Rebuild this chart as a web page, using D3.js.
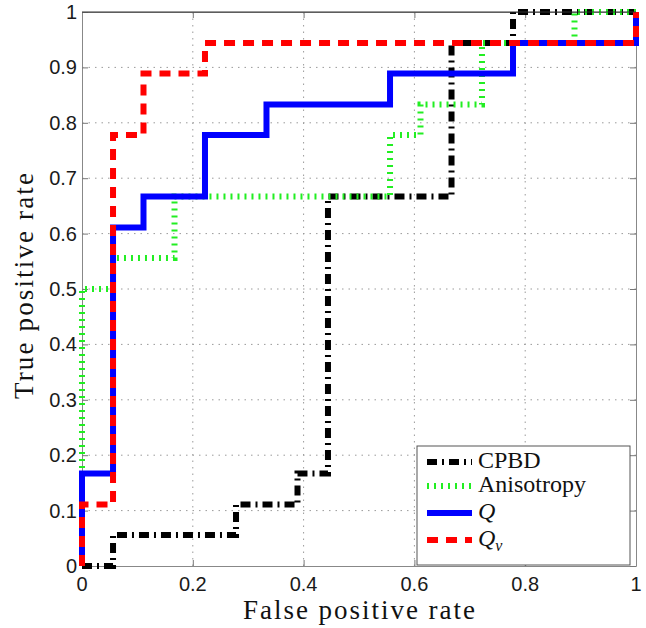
<!DOCTYPE html>
<html>
<head>
<meta charset="utf-8">
<script src="https://cdn.jsdelivr.net/npm/d3@7"></script>
<style>
  body { margin: 0; background: #fff; }
</style>
</head>
<body>
<div id="graph"></div>
<script>
const fullWidth = 646;
const fullHeight = 628;
const plot = { left: 82, right: 636, top: 12, bottom: 566 };
const sansFont = "'Liberation Sans', Arial, sans-serif";
const serifFont = "'Liberation Serif', 'Times New Roman', Times, serif";

// tick values
const xTicks = [0, 0.2, 0.4, 0.6, 0.8, 1];
const yTicks = [0, 0.1, 0.2, 0.3, 0.4, 0.5, 0.6, 0.7, 0.8, 0.9, 1];

// ROC vertices (false positive rate / true positive rate)
const cpbdX = [0, 0.056, 0.056, 0.278, 0.278, 0.389, 0.389, 0.444, 0.444, 0.667, 0.667, 0.778, 0.778, 1];
const cpbdY = [0, 0, 0.056, 0.056, 0.111, 0.111, 0.167, 0.167, 0.667, 0.667, 0.944, 0.944, 1, 1];

const anisoX = [0, 0, 0.056, 0.056, 0.167, 0.167, 0.556, 0.556, 0.611, 0.611, 0.722, 0.722, 0.889, 0.889, 1];
const anisoY = [0, 0.5, 0.5, 0.556, 0.556, 0.667, 0.667, 0.778, 0.778, 0.833, 0.833, 0.944, 0.944, 1, 1];

const qX = [0, 0, 0.056, 0.056, 0.111, 0.111, 0.222, 0.222, 0.333, 0.333, 0.556, 0.556, 0.778, 0.778, 1, 1];
const qY = [0, 0.167, 0.167, 0.611, 0.611, 0.667, 0.667, 0.778, 0.778, 0.833, 0.833, 0.889, 0.889, 0.944, 0.944, 1];

const qvX = [0, 0, 0.056, 0.056, 0.111, 0.111, 0.222, 0.222, 1, 1];
const qvY = [0, 0.111, 0.111, 0.778, 0.778, 0.889, 0.889, 0.944, 0.944, 1];

const seriesNames = ["CPBD", "Anisotropy", "Q", "Qv"];

const series = [
  { name: seriesNames[0], xs: cpbdX, ys: cpbdY, color: "#000000", width: 6, dash: "10,5,2,5" },
  { name: seriesNames[1], xs: anisoX, ys: anisoY, color: "#22ee22", width: 6, dash: "2,5" },
  { name: seriesNames[2], xs: qX, ys: qY, color: "#0000ff", width: 6, dash: null },
  { name: seriesNames[3], xs: qvX, ys: qvY, color: "#ff0000", width: 6, dash: "11,8" }
];

var svg = d3.select("#graph")
  .append("svg")
  .attr("width", fullWidth)
  .attr("height", fullHeight);

var x = d3.scaleLinear().domain([0, 1]).range([plot.left, plot.right]);
var y = d3.scaleLinear().domain([0, 1]).range([plot.bottom, plot.top]);

// grid
var grid = svg.append("g").attr("class", "grid");
grid.selectAll(".gx")
  .data(xTicks.filter(d => d > 0 && d < 1))
  .enter().append("line")
  .attr("x1", d => x(d)).attr("x2", d => x(d))
  .attr("y1", plot.top).attr("y2", plot.bottom)
  .attr("stroke", "#9a9a9a").attr("stroke-width", 1)
  .attr("stroke-dasharray", "1.5,5");
grid.selectAll(".gy")
  .data(yTicks.filter(d => d > 0 && d < 1))
  .enter().append("line")
  .attr("x1", plot.left).attr("x2", plot.right)
  .attr("y1", d => y(d)).attr("y2", d => y(d))
  .attr("stroke", "#9a9a9a").attr("stroke-width", 1)
  .attr("stroke-dasharray", "1.5,5");

// axes, ticks inside on all sides
function noLabels(axis) { return axis.tickSize(-6).tickSizeOuter(0).tickFormat(""); }

svg.append("g")
  .attr("transform", `translate(0,${plot.bottom})`)
  .call(noLabels(d3.axisBottom(x).tickValues(xTicks)));
svg.append("g")
  .attr("transform", `translate(0,${plot.top})`)
  .call(noLabels(d3.axisTop(x).tickValues(xTicks)));
svg.append("g")
  .attr("transform", `translate(${plot.left},0)`)
  .call(noLabels(d3.axisLeft(y).tickValues(yTicks)));
svg.append("g")
  .attr("transform", `translate(${plot.right},0)`)
  .call(noLabels(d3.axisRight(y).tickValues(yTicks)));

svg.selectAll(".domain").attr("stroke", "#888");
svg.selectAll(".tick line").attr("stroke", "#777");

// tick labels
svg.append("g").selectAll("text")
  .data(xTicks)
  .enter().append("text")
  .style("font-family", sansFont).style("font-size", "20px").attr("fill", "#1a1a1a")
  .attr("x", d => x(d))
  .attr("y", 591)
  .attr("text-anchor", "middle")
  .text(d => d3.format("")(d));

svg.append("g").selectAll("text")
  .data(yTicks)
  .enter().append("text")
  .style("font-family", sansFont).style("font-size", "20px").attr("fill", "#1a1a1a")
  .attr("x", 77)
  .attr("y", d => y(d) + 7)
  .attr("text-anchor", "end")
  .text(d => d3.format("")(d));

// axis titles
svg.append("text")
  .style("font-family", serifFont).style("font-size", "27px").attr("fill", "#111")
  .attr("x", 359)
  .attr("y", 619)
  .attr("text-anchor", "middle")
  .attr("textLength", 232)
  .text("False positive rate");

svg.append("text")
  .style("font-family", serifFont).style("font-size", "27px").attr("fill", "#111")
  .attr("transform", "translate(33,286) rotate(-90)")
  .attr("text-anchor", "middle")
  .attr("textLength", 226)
  .text("True positive rate");

// curves
var line = d3.line()
  .x(d => x(d[0]))
  .y(d => y(d[1]));

svg.append("g").selectAll("path")
  .data(series)
  .enter().append("path")
  .attr("d", s => line(s.xs.map((v, i) => [v, s.ys[i]])))
  .attr("fill", "none")
  .attr("stroke", s => s.color)
  .attr("stroke-width", s => s.width)
  .attr("stroke-dasharray", s => s.dash)
  .attr("stroke-linejoin", "miter")
  .attr("stroke-linecap", "butt");

// top border over everything, like the reference
svg.append("line")
  .attr("x1", plot.left).attr("x2", plot.right)
  .attr("y1", plot.top).attr("y2", plot.top)
  .attr("stroke", "#333").attr("stroke-width", 1);

// legend
var legend = svg.append("g").attr("transform", "translate(417,446)");
legend.append("rect")
  .attr("width", 213).attr("height", 119)
  .attr("fill", "#fff")
  .attr("stroke", "#555").attr("stroke-width", 1);

var rowY = [16, 40, 67, 94];
var items = legend.selectAll(".item")
  .data(series)
  .enter().append("g")
  .attr("transform", (d, i) => `translate(0,${rowY[i]})`);

items.append("line")
  .attr("x1", 10).attr("x2", 55)
  .attr("stroke", s => s.color)
  .attr("stroke-width", s => s.width)
  .attr("stroke-dasharray", s => s.dash);

items.append("text")
  .style("font-family", serifFont).style("font-size", "24px").attr("fill", "#111")
  .attr("x", 61)
  .attr("y", 6)
  .each(function (s) {
    var t = d3.select(this);
    if (s.name === "Q") {
      t.append("tspan").style("font-style", "italic").text("Q");
    } else if (s.name === "Qv") {
      t.append("tspan").style("font-style", "italic").text("Q");
      t.append("tspan").style("font-style", "italic").style("font-size", "16px").attr("dy", 5).text("v");
    } else {
      t.text(s.name);
    }
  });
</script>
</body>
</html>
